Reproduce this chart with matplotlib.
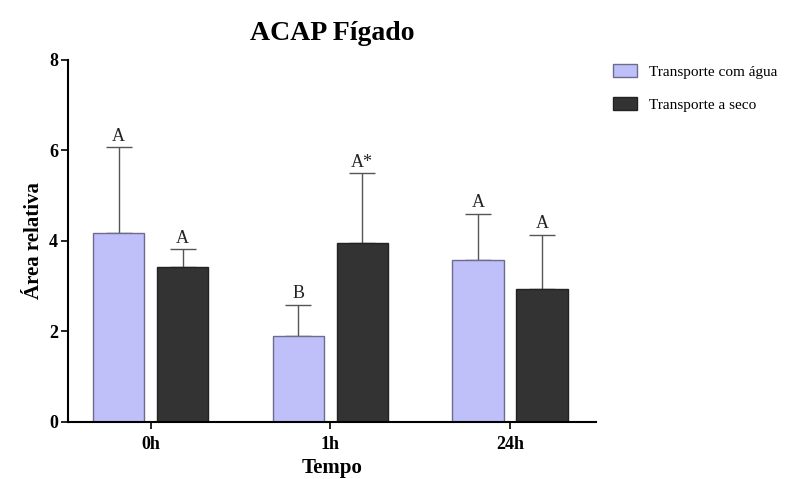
import matplotlib
matplotlib.use("Agg")
import matplotlib.pyplot as plt
import numpy as np

plt.rcParams['font.family'] = ['Liberation Serif', 'DejaVu Serif']

categories = ["0h", "1h", "24h"]
series_names = ["Transporte com água", "Transporte a seco"]
agua_mean = [4.16, 1.89, 3.58]
agua_err = [1.90, 0.69, 1.01]
seco_mean = [3.42, 3.95, 2.93]
seco_err = [0.39, 1.54, 1.20]
agua_letters = ["A", "B", "A"]
seco_letters = ["A", "A*", "A"]

colors = ["#bfbff9", "#333333"]
edges = ["#6c6c8c", "#222222"]

fig = plt.figure(figsize=(7.94, 4.79), dpi=100)
ax = fig.add_axes([0.0856, 0.1196, 0.751 - 0.0856, 0.8754 - 0.1196])

x = np.arange(len(categories))
w = 0.285
off = 0.178
for i, (means, errs, letters) in enumerate([(agua_mean, agua_err, agua_letters),
                                             (seco_mean, seco_err, seco_letters)]):
    pos = x + (-off if i == 0 else off)
    ax.bar(pos, means, width=w, color=colors[i], edgecolor=edges[i], linewidth=1.0,
           label=series_names[i], zorder=2)
    ax.errorbar(pos, means, yerr=[np.zeros(len(means)), errs], fmt='none',
                ecolor="#555555", elinewidth=1.0, capsize=9.5, capthick=1.0, zorder=1)
    for p, m, e, t in zip(pos, means, errs, letters):
        ax.text(p, m + e + 0.06, t, ha='center', va='bottom', fontsize=13, color="#222222")

ax.set_xlim(-0.46, 2.48)
ax.set_ylim(0, 8)
ax.set_yticks([0, 2, 4, 6, 8])
ax.set_xticks(x)
ax.set_xticklabels(categories)
for lab in ax.get_xticklabels() + ax.get_yticklabels():
    lab.set_fontweight('bold')
    lab.set_fontsize(13)
ax.spines['top'].set_visible(False)
ax.spines['right'].set_visible(False)
ax.spines['left'].set_linewidth(1.5)
ax.spines['bottom'].set_linewidth(1.5)
ax.tick_params(axis='y', direction='out', length=5, width=1.2, pad=2)
ax.tick_params(axis='x', direction='out', length=5, width=1.2, pad=5)

ax.set_xlabel("Tempo", fontsize=15, fontweight='bold', labelpad=4)
ax.set_ylabel("Área relativa", fontsize=15, fontweight='bold', labelpad=4)
ax.set_title("ACAP Fígado", fontsize=20, fontweight='bold', pad=14)

leg = ax.legend(loc='upper left', bbox_to_anchor=(1.005, 1.025), frameon=False,
                fontsize=11, handlelength=1.6, handleheight=0.9, labelspacing=1.2,
                handletextpad=0.8)

fig.savefig("out.png", dpi=100)
